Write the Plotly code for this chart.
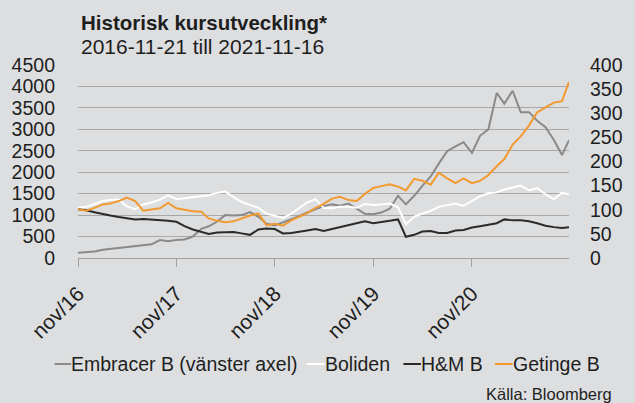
import pandas as pd
import plotly.graph_objects as go

# ---------------- data ----------------
start = pd.Timestamp("2016-11-21")
dates = [start + pd.DateOffset(months=i) for i in range(60)] + [pd.Timestamp("2021-11-16")]
dates = [d.strftime("%Y-%m-%d") for d in dates]

embracer = [120, 135, 150, 190, 210, 230, 260, 280, 300, 320,
            420, 390, 420, 430, 500, 680, 740, 850, 1000, 990,
            1000, 1070, 960, 800, 760, 830, 920, 980, 1060, 1130,
            1210, 1250, 1220, 1270, 1150, 1030, 1020, 1060, 1150, 1450,
            1250, 1450, 1680, 1900, 2200, 2490, 2600, 2700, 2450, 2850,
            3000, 3850, 3600, 3900, 3400, 3400, 3200, 3050, 2750, 2400, 2750]

boliden = [104, 106, 112, 118, 120, 121, 107, 101, 111, 115,
           121, 130, 122, 124, 126, 127, 130, 135, 138, 126,
           116, 110, 104, 92, 88, 83, 92, 104, 115, 122,
           104, 103, 106, 106, 104, 112, 110, 111, 113, 105,
           70, 86, 92, 98, 106, 110, 113, 108, 118, 128,
           134, 136, 142, 146, 150, 140, 145, 132, 122, 135, 132]

hm = [101, 99, 95, 91, 88, 85, 82, 80, 81, 80,
      79, 77, 75, 66, 59, 55, 50, 53, 54, 54,
      51, 48, 59, 61, 60, 51, 52, 54, 57, 60,
      56, 60, 64, 69, 73, 76, 72, 74, 77, 80,
      44, 48, 55, 56, 52, 52, 57, 58, 63, 66,
      69, 72, 80, 78, 78, 76, 72, 67, 64, 62, 64]

getinge = [101, 98, 104, 111, 113, 118, 125, 118, 98, 100,
           103, 114, 103, 100, 97, 96, 82, 77, 74, 76,
           82, 88, 92, 68, 71, 67, 78, 85, 93, 104,
           112, 123, 127, 120, 118, 133, 145, 149, 153, 148,
           140, 164, 160, 152, 177, 165, 155, 165, 155, 160,
           172, 190, 205, 235, 252, 275, 302, 312, 322, 325, 365]

names = ["Embracer B (vänster axel)", "Boliden", "H&M B", "Getinge B"]
colors = ["#8a8a8a", "#ffffff", "#2a2a2a", "#f29a30"]

tick_dates = ["2016-11-21", "2017-11-21", "2018-11-21", "2019-11-21", "2020-11-21"]
tick_text = ["nov/16", "nov/17", "nov/18", "nov/19", "nov/20"]
left_ticks = list(range(0, 4501, 500))
right_ticks = list(range(0, 401, 50))

# ---------------- figure ----------------
W, H = 635, 403
ML, MR, MT, MB = 76, 55, 65, 145
PW, PH = W - ML - MR, H - MT - MB
BG = "#dddee0"
FONT = "Liberation Sans, Arial, sans-serif"
TXT = "#1e1e1e"


def px(x):
    return (x - ML) / PW


def py(y):
    return (H - MB - y) / PH


fig = go.Figure()
series = [embracer, boliden, hm, getinge]
for i, (nm, vals, col) in enumerate(zip(names, series, colors)):
    fig.add_trace(go.Scatter(
        x=dates, y=vals, name=nm, mode="lines",
        line=dict(color=col, width=2),
        yaxis="y" if i == 0 else "y2",
        showlegend=False,
    ))

fig.update_layout(
    width=W, height=H,
    margin=dict(l=ML, r=MR, t=MT, b=MB, pad=0),
    paper_bgcolor=BG, plot_bgcolor=BG,
    font=dict(family=FONT, size=19, color=TXT),
    xaxis=dict(
        type="date", range=["2016-11-21", "2021-11-16"],
        tickvals=tick_dates, ticktext=tick_text, tickangle=-45,
        showgrid=False, zeroline=False,
        showline=True, linecolor="#a0a0a0", linewidth=1,
        ticks="outside", ticklen=8, tickcolor="#a0a0a0", tickwidth=1,
        ticklabelstandoff=6,
        tickfont=dict(size=21, color=TXT),
    ),
    yaxis=dict(
        range=[0, 4500], tickvals=left_ticks,
        showgrid=True, gridcolor="#a8a8a8", gridwidth=1,
        zeroline=False, showline=False, ticks="",
        ticklabelstandoff=22,
        tickfont=dict(size=19.5, color=TXT),
    ),
    yaxis2=dict(
        range=[0, 400], tickvals=right_ticks, overlaying="y", side="right",
        showgrid=False, zeroline=False, showline=False, ticks="",
        ticklabelstandoff=20,
        tickfont=dict(size=19.5, color=TXT),
    ),
)

annotations = [
    dict(text="<b>Historisk kursutveckling*</b>", x=px(77), y=py(22),
         xanchor="left", yanchor="middle", font=dict(size=20.5, color=TXT)),
    dict(text="2016-11-21 till 2021-11-16", x=px(77), y=py(47),
         xanchor="left", yanchor="middle", font=dict(size=21, color=TXT)),
    dict(text="Källa: Bloomberg", x=px(626), y=py(394),
         xanchor="right", yanchor="middle", font=dict(size=16.5, color=TXT)),
]

leg_lines = [(52, 69), (311, 329), (410, 428), (504, 522)]
leg_text_x = [68, 329, 427, 521]
leg_y = 364
shapes = []
for (x0, x1), tx, nm, col in zip(leg_lines, leg_text_x, names, colors):
    shapes.append(dict(type="line", xref="paper", yref="paper",
                       x0=px(x0), x1=px(x1), y0=py(leg_y), y1=py(leg_y),
                       line=dict(color=col, width=2)))
    annotations.append(dict(text=nm, x=px(tx), y=py(leg_y), xanchor="left",
                            yanchor="middle", font=dict(size=19.5, color=TXT),
                            borderpad=0))

for a in annotations:
    a.update(xref="paper", yref="paper", showarrow=False)
fig.update_layout(annotations=annotations, shapes=shapes)

fig.write_html("out.html")
